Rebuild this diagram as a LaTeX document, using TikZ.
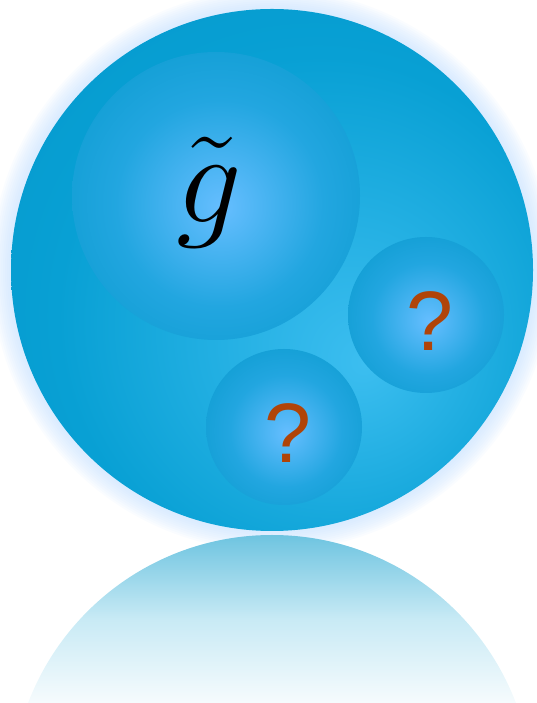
\RequirePackage{fix-cm}
\documentclass[tikz,border=0pt]{standalone}
\usepackage{fontspec}
\newfontfamily\qfont{Liberation Sans}
\definecolor{ballin}{RGB}{60,190,240}
\definecolor{ballmid}{RGB}{8,160,212}
\definecolor{ballout}{RGB}{0,146,196}
\definecolor{innin}{RGB}{102,190,255}
\definecolor{innmid}{RGB}{34,166,224}
\definecolor{innout}{RGB}{4,152,202}
\definecolor{innrim}{RGB}{0,146,196}
\definecolor{halo}{RGB}{190,220,255}
\definecolor{refltop}{RGB}{110,196,224}
\definecolor{reflmid}{RGB}{200,234,245}
\definecolor{reflbot}{RGB}{246,251,253}
\definecolor{qcolor}{RGB}{176,68,8}
\pgfdeclareradialshading{bigballshade}{\pgfpoint{9bp}{-9bp}}{color(0bp)=(ballin); color(25bp)=(ballmid); color(50bp)=(ballout)}
\pgfdeclareradialshading{innerballshade}{\pgfpoint{1bp}{-2bp}}{color(0bp)=(innin); color(18bp)=(innmid); color(38bp)=(innout); color(50bp)=(innrim)}
\begin{document}
\begin{tikzpicture}[ball/.style={circle, inner sep=0pt, shading=bigballshade},
  innerball/.style={circle, inner sep=0pt, shading=innerballshade},
  qmark/.style={text=qcolor, font=\qfont\fontsize{48}{52}\selectfont}]
	\useasboundingbox (0,0) rectangle (10.74,14.06);

	\foreach \k in {1,...,10}
		\fill [halo, opacity=0.08] (5.44,8.66) circle ({5.22+0.04*\k});

	\begin{scope}
		\clip (5.44,-1.86) circle (5.22);
		\shade [top color=refltop, bottom color=reflbot, middle color=reflmid] (0,0) rectangle (10.74,3.36);
	\end{scope}

	\node [ball, minimum size=10.44cm] (ball) at (5.44,8.66) {};

	\node [innerball, minimum size=5.76cm] (gluino) at (4.32,10.14) {};
	\node [innerball, minimum size=3.12cm] (unk1) at (8.52,7.76) {};
	\node [innerball, minimum size=3.12cm] (unk2) at (5.68,5.52) {};

	\node [anchor=base, font=\fontsize{74}{80}\selectfont] (glabel) at (4.18,9.6) {$\tilde{g}$};
	\begin{scope}[every node/.style={qmark}]
		\node (q1) at (8.6,7.64) {?};
		\node (q2) at (5.76,5.40) {?};
	\end{scope}

\end{tikzpicture}
\end{document}
